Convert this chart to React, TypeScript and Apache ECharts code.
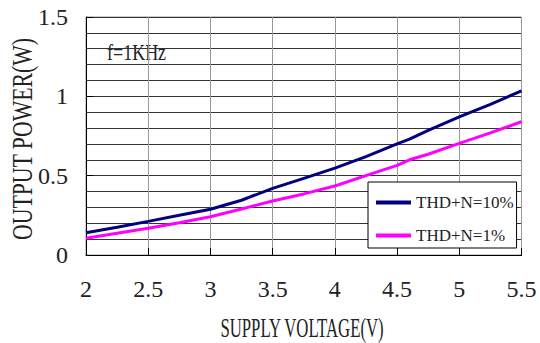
import React, { useEffect, useRef } from "react";
import * as echarts from "echarts";

const voltage = [2, 2.25, 2.5, 2.75, 3, 3.25, 3.5, 3.75, 4, 4.25, 4.5, 4.6, 4.75, 5, 5.25, 5.5];
const thd10 = [0.14, 0.175, 0.212, 0.25, 0.288, 0.345, 0.42, 0.483, 0.548, 0.62, 0.7, 0.73, 0.785, 0.87, 0.95, 1.035];
const thd1 = [0.105, 0.137, 0.168, 0.203, 0.241, 0.29, 0.34, 0.385, 0.435, 0.5, 0.565, 0.6, 0.635, 0.704, 0.77, 0.84];
const seriesNames = ["THD+N=10%", "THD+N=1%"];
const xTitle = "SUPPLY VOLTAGE(V)";
const yTitle = "OUTPUT POWER(W)";
const note = "f=1KHz";

const FONT = "Liberation Serif";

export default function App() {
  const ref = useRef<HTMLDivElement>(null);
  useEffect(() => {
    if (!ref.current) return;
    const chart = echarts.init(ref.current, null, { renderer: "svg" });
    const toPairs = (ys: number[]) => voltage.map((v, i) => [v, ys[i]]);
    chart.setOption({
      animation: false,
      backgroundColor: "#fff",
      textStyle: { fontFamily: FONT },
      grid: {
        left: 86,
        right: 18.5,
        top: 17,
        bottom: 88,
        show: true,
        borderColor: "#999",
        borderWidth: 1,
      },
      xAxis: {
        type: "value",
        min: 2,
        max: 5.5,
        interval: 0.5,
        axisLine: { show: true, onZero: false, lineStyle: { color: "#000", width: 1 } },
        axisTick: { show: true, inside: true, length: 7, lineStyle: { color: "#000" } },
        axisLabel: { margin: 22, fontSize: 24, fontFamily: FONT, color: "#222" },
        splitLine: { show: true, lineStyle: { color: "#999", width: 1 } },
      },
      yAxis: {
        type: "value",
        min: 0,
        max: 1.5,
        interval: 0.5,
        axisLine: { show: true, lineStyle: { color: "#000", width: 1 } },
        axisTick: { show: true, inside: true, length: 7, lineStyle: { color: "#000" } },
        axisLabel: { margin: 18, fontSize: 24, fontFamily: FONT, color: "#222" },
        splitLine: { show: true, lineStyle: { color: "#333", width: 1 } },
        minorTick: { show: false, splitNumber: 5 },
        minorSplitLine: { show: true, lineStyle: { color: "#333", width: 1 } },
      },
      legend: {
        orient: "vertical",
        left: 368,
        top: 182,
        padding: [12, 3, 4, 8],
        itemGap: 16,
        itemWidth: 35,
        itemHeight: 4,
        icon: "rect",
        backgroundColor: "#fff",
        borderColor: "#000",
        borderWidth: 1,
        borderRadius: 0,
        textStyle: { fontSize: 17, fontFamily: FONT, color: "#222" },
        data: seriesNames,
      },
      graphic: [
        {
          type: "text",
          x: 107,
          y: 52,
          scaleX: 0.75,
          style: { text: note, fontSize: 24, fontFamily: FONT, fill: "#222", align: "left", verticalAlign: "middle" },
        },
        {
          type: "text",
          x: 302,
          y: 328,
          scaleX: 0.62,
          style: { text: xTitle, fontSize: 27, fontFamily: FONT, fill: "#222", align: "center", verticalAlign: "middle" },
        },
        {
          type: "text",
          x: 22,
          y: 139,
          rotation: Math.PI / 2,
          scaleX: 0.75,
          style: { text: yTitle, fontSize: 29, fontFamily: FONT, fill: "#222", align: "center", verticalAlign: "middle" },
        },
      ],
      series: [
        {
          name: seriesNames[0],
          type: "line",
          data: toPairs(thd10),
          symbol: "none",
          lineStyle: { color: "#000080", width: 3 },
          itemStyle: { color: "#000080" },
          z: 3,
        },
        {
          name: seriesNames[1],
          type: "line",
          data: toPairs(thd1),
          symbol: "none",
          lineStyle: { color: "#ff00ff", width: 3 },
          itemStyle: { color: "#ff00ff" },
          z: 3,
        },
      ],
    });
    return () => chart.dispose();
  }, []);
  return <div ref={ref} style={{ width: 540, height: 343, position: "absolute", left: 0, top: 0 }} />;
}
